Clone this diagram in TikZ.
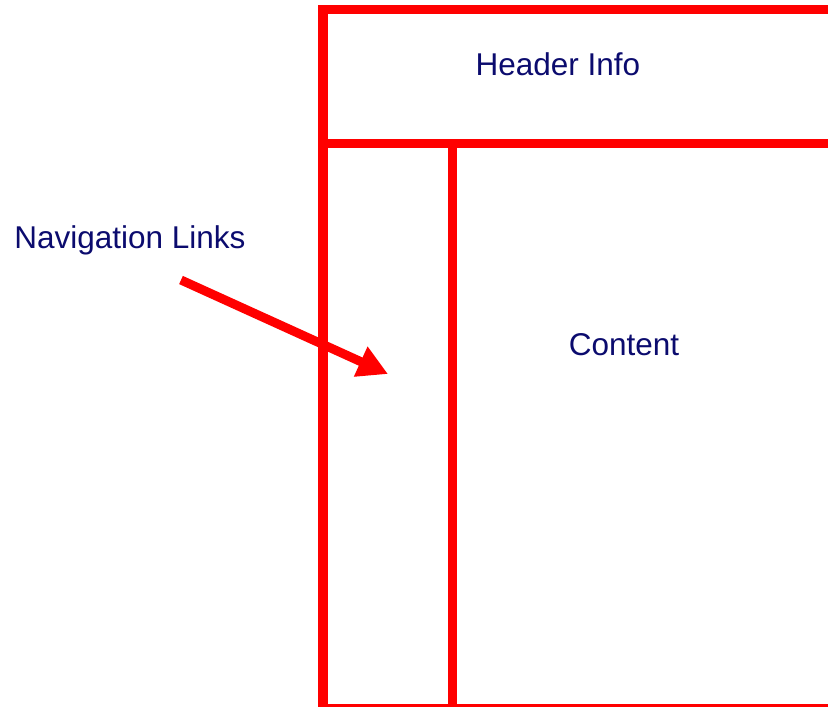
\documentclass[tikz,border=0pt]{standalone}
\usepackage{fontspec}
\setmainfont{Liberation Sans}
\usepackage{xcolor}
\definecolor{Pure Red}{HTML}{FF0000}
\definecolor{Deep Navy}{HTML}{0B0B6E}
\colorlet{cRed}{Pure Red}
\colorlet{cNavy}{Deep Navy}
\usetikzlibrary{positioning, arrows.meta}
\tikzset{
	wire/.style={
		draw=cRed,
		line width=9.5pt
	},
	boxtext/.style={
		text=cNavy,
		anchor=base,
		inner sep=0pt,
		font=\fontsize{31.5}{36}\selectfont
	},
	pointer/.style={
		draw=cRed,
		line width=9pt,
		-{Triangle[length=30pt, width=31pt]}
	}
}

\begin{document}
\begin{tikzpicture}[x=1pt, y=-1pt]
\clip (0,0) rectangle (828,707);
% ---
% page frame
% ---
\coordinate (frame-nw) at (323,9.5);
\coordinate (frame-se) at (860,708.75);
\coordinate (split-w) at (323,143.5);
\coordinate (split-e) at (860,143.5);
\coordinate (nav-top) at (452.5,143.5);
\coordinate (nav-bottom) at (452.5,708.75);

\draw[wire] (frame-nw) rectangle (frame-se);
\draw[wire] (split-w) -- (split-e);
\draw[wire] (nav-top) -- (nav-bottom);

% ---
% texts
% ---
\node[boxtext] at (558,75) (header) {Header Info};
\node[boxtext] at (624,355) (content) {Content};
\node[boxtext] at (130,248) (nav-label) {Navigation Links};

% ---
% pointer into the link column
% ---
\coordinate (nav-tail) at (181,280);
\coordinate (nav-tip) at (388,374);
\draw[pointer] (nav-tail) -- (nav-tip);
\end{tikzpicture}
\end{document}
